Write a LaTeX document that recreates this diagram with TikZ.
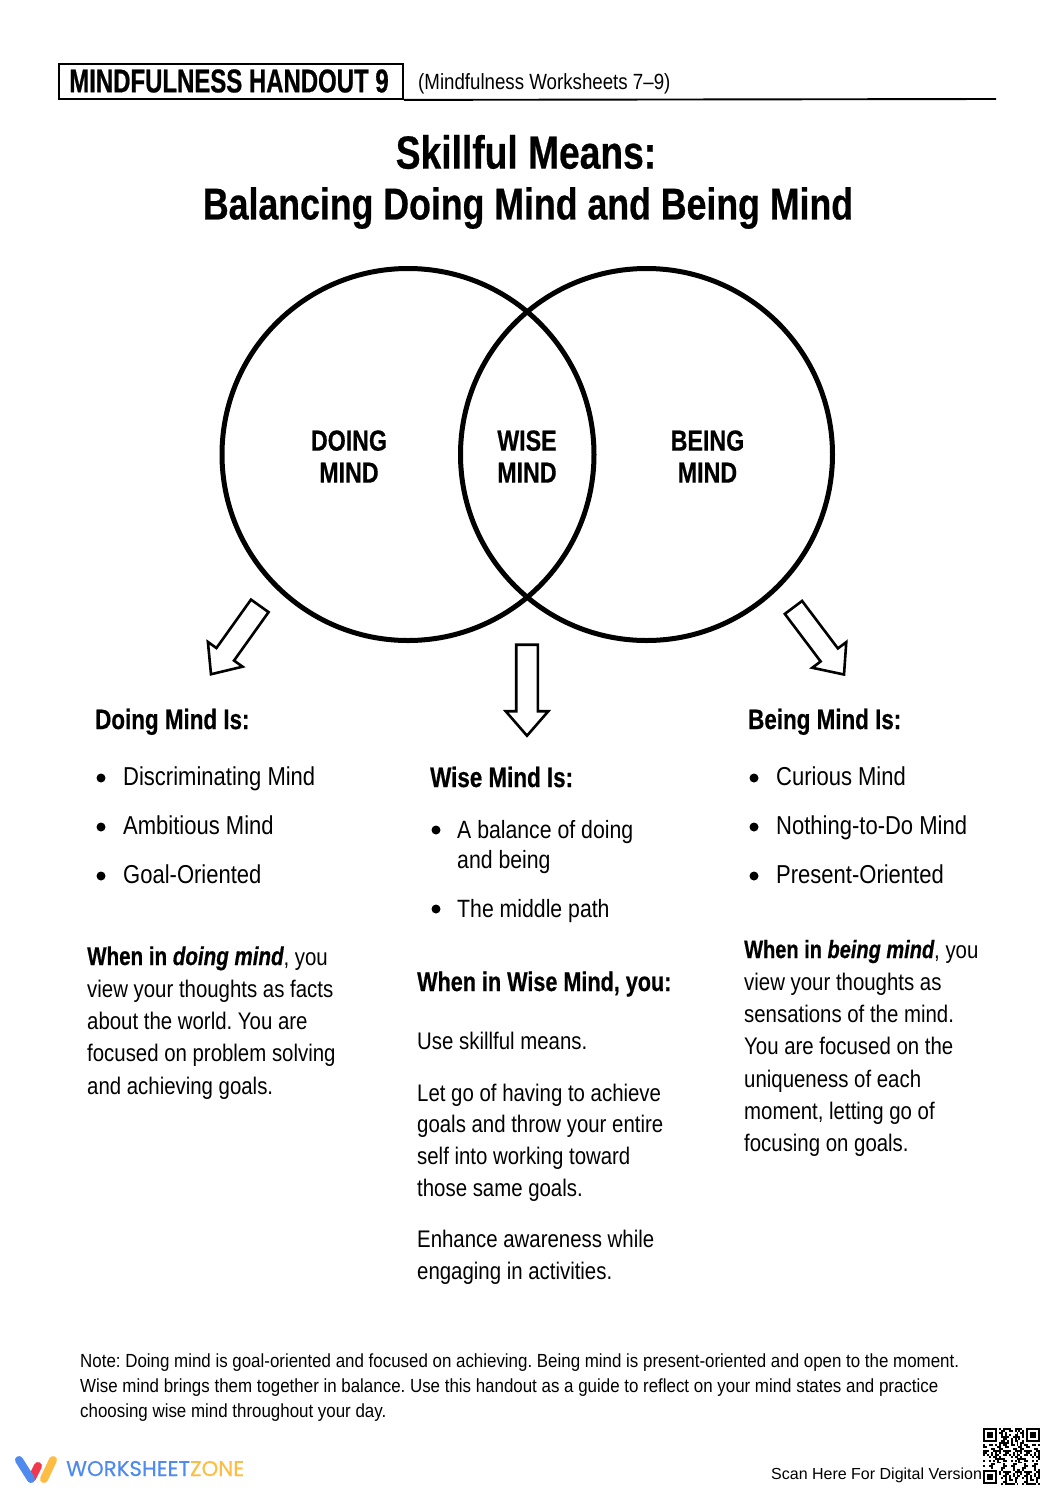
\documentclass[tikz,border=0pt]{standalone}
\usepackage{fontspec}
\usepackage{tikz}
\usetikzlibrary{shapes.arrows}
\setmainfont{Liberation Sans}
\newfontfamily\condfont[FakeStretch=0.85]{Liberation Sans}
\newfontfamily\notefont[FakeStretch=0.89]{Liberation Sans}
\newfontfamily\headfont[FakeStretch=0.80, BoldFeatures={FakeStretch=0.80, FakeBold=0.5}, BoldItalicFeatures={FakeStretch=0.80, FakeBold=0.5}]{Liberation Sans}
\newfontfamily\hdrfont[FakeStretch=0.726, BoldFeatures={FakeStretch=0.726, FakeBold=0.6}]{Liberation Sans}
\newfontfamily\logofont[FakeBold=0.4]{Poppins}
\definecolor{logoblue}{HTML}{4F8BEF}
\definecolor{logored}{HTML}{F2384F}
\definecolor{logoyellow}{HTML}{FDBD45}
\frenchspacing
\tikzset{
    mindcircle/.style={circle, draw, line width=5pt, minimum size=372pt, inner sep=0pt},
    mindlabel/.style={font=\headfont\bfseries\fontsize{29}{32}\selectfont, align=center, inner sep=0pt},
    bigarrow/.style={single arrow, draw, line width=2.6pt, minimum height=#1,
        single arrow head extend=10.5pt, single arrow tip angle=82, inner xsep=0pt, inner ysep=9.5pt},
    heading/.style={anchor=base west, inner sep=0pt, font=\headfont\bfseries\fontsize{28}{30}\selectfont},
    body/.style={anchor=base west, inner sep=0pt, font=\condfont\fontsize{24}{26}\selectfont},
    listitem/.style={anchor=base west, inner sep=0pt, font=\condfont\fontsize{25.9}{28}\selectfont},
    notetext/.style={anchor=base west, inner sep=0pt, font=\notefont\fontsize{19}{21}\selectfont},
    bulletdot/.style={circle, fill, inner sep=0pt, minimum size=9pt},
}
\newcommand{\whenbold}[2]{{\headfont\bfseries\fontsize{#1}{26}\selectfont When in \itshape #2}}
\begin{document}
\begin{tikzpicture}[x=1pt, y=-1pt]
    \useasboundingbox (0, 0) rectangle (1054, 1492);

    % Header
    \node[draw, line width=1.9pt, anchor=north west, minimum width=344pt, minimum height=35pt, inner sep=0pt] (hdrbox) at (58, 63) {};
    \node[inner sep=0pt, font=\hdrfont\bfseries\fontsize{33}{34}\selectfont] (hdrtitle) at (229, 81) {MINDFULNESS HANDOUT 9};
    \coordinate (rulestart) at (hdrbox.south east);
    \coordinate (ruleend) at (996, 99);
    \draw[line width=1.9pt] (rulestart) -- (ruleend);
    \node[body, font=\condfont\fontsize{22}{24}\selectfont] (hdrnote) at (418, 89) {(Mindfulness Worksheets 7–9)};

    % Title
    \node[inner sep=0pt, font=\headfont\bfseries\fontsize{46.5}{50}\selectfont] (title1) at (526, 152) {Skillful Means:};
    \node[inner sep=0pt, font=\headfont\bfseries\fontsize{44.6}{50}\selectfont] (title2) at (528, 208) {Balancing Doing Mind and Being Mind};

    % Circles
    \node[mindcircle] (doingc) at (408, 454.5) {};
    \node[mindcircle] (beingc) at (646.5, 454.5) {};
    \node[mindlabel] (doinglab) at (349, 456.5) {DOING\\MIND};
    \node[mindlabel] (wiselab) at (527, 456.5) {WISE\\MIND};
    \node[mindlabel] (beinglab) at (707.5, 456.5) {BEING\\MIND};

    % Arrows
    \node[bigarrow=84pt, rotate=-125.5] (doingarrow) at (239, 635) {};
    \node[bigarrow=91pt, rotate=-90] (wisearrow) at (527, 684) {};
    \node[bigarrow=84pt, rotate=-53] (beingarrow) at (815, 636) {};

    % Doing column
    \node[heading] (doinghead) at (95, 729) {Doing Mind Is:};
    \foreach \name/\ypos/\txt in {d1/785/Discriminating Mind, d2/834/Ambitious Mind, d3/883/Goal-Oriented} {
        \node[bulletdot] (\name dot) at (101, \ypos-7) {};
        \node[listitem] (\name) at (123, \ypos) {\txt};
    }
    \node[body] (dl1) at (87, 965) {\whenbold{25.7}{doing mind}, you};
    \node[body] (dl2) at (87, 997) {view your thoughts as facts};
    \node[body] (dl3) at (87, 1029) {about the world. You are};
    \node[body] (dl4) at (87, 1061) {focused on problem solving};
    \node[body] (dl5) at (87, 1094) {and achieving goals.};

    % Wise column
    \node[heading] (wisehead) at (430, 787) {Wise Mind Is:};
    \node[bulletdot] (w1dot) at (436, 830) {};
    \node[body, font=\condfont\fontsize{25}{26}\selectfont] (w1) at (457, 838) {A balance of doing};
    \node[body, font=\condfont\fontsize{25}{26}\selectfont] (w1b) at (457, 868) {and being};
    \node[bulletdot] (w2dot) at (436, 909) {};
    \node[body, font=\condfont\fontsize{25}{26}\selectfont] (w2) at (457, 917) {The middle path};
    \node[heading, font=\headfont\bfseries\fontsize{27}{30}\selectfont] (wisewhen) at (417, 991) {When in Wise Mind, you:};
    \foreach \name/\ypos/\txt in {wl1/1049/Use skillful means., wl2/1101/Let go of having to achieve, wl3/1132/goals and throw your entire,
        wl4/1164/self into working toward, wl5/1196/those same goals., wl6/1247/Enhance awareness while, wl7/1279/engaging in activities.} {
        \node[body] (\name) at (417, \ypos) {\txt};
    }

    % Being column
    \node[heading] (beinghead) at (748, 729) {Being Mind Is:};
    \foreach \name/\ypos/\txt in {b1/785/Curious Mind, b2/834/Nothing-to-Do Mind, b3/883/Present-Oriented} {
        \node[bulletdot] (\name dot) at (754, \ypos-7) {};
        \node[listitem] (\name) at (776, \ypos) {\txt};
    }
    \node[body] (bl1) at (744, 958) {\whenbold{25}{being mind}, you};
    \foreach \name/\ypos/\txt in {bl2/990/view your thoughts as, bl3/1022/sensations of the mind., bl4/1054/You are focused on the,
        bl5/1087/uniqueness of each, bl6/1119/{moment, letting go of}, bl7/1151/focusing on goals.} {
        \node[body] (\name) at (744, \ypos) {\txt};
    }

    % Note
    \node[notetext] (note1) at (80, 1367) {Note: Doing mind is goal-oriented and focused on achieving. Being mind is present-oriented and open to the moment.};
    \node[notetext] (note2) at (80, 1392) {Wise mind brings them together in balance. Use this handout as a guide to reflect on your mind states and practice};
    \node[notetext] (note3) at (80, 1417) {choosing wise mind throughout your day.};

    % Footer
    \draw[logored, line width=8pt, line cap=round] (32, 1478) -- (38, 1466);
    \draw[logoblue, line width=8pt, line cap=round] (19, 1460) -- (31, 1479);
    \draw[logoyellow, line width=8pt, line cap=round] (44, 1479) -- (53, 1460);
    \node[anchor=base west, inner sep=0pt, text=logoblue, font=\logofont\fontsize{21.3}{22}\selectfont] (logotext) at (66, 1476)
        {WORKSHEET\textcolor{logoyellow}{ZONE}};
    \node[anchor=base west, inner sep=0pt, font=\fontsize{16}{18}\selectfont] (scanlabel) at (771, 1479) {Scan Here For Digital Version};

    % QR code
    \foreach \fx/\fy in {983/1428, 1026/1428, 983/1470} {
        \draw[line width=2pt] (\fx+1, \fy+1) rectangle (\fx+13, \fy+13);
        \fill (\fx+4, \fy+4) rectangle (\fx+10, \fy+10);
    }
    \foreach \col in {0,...,28} {
        \foreach \row in {0,...,28} {
            \pgfmathtruncatemacro{\qrbit}{mod(\col*\col*3+mod(\row*\row,7)*\row*5+\col*\row*7+\col+2*\row,11)<5 ? 1 : 0}
            \pgfmathtruncatemacro{\qrfree}{((\col<8 && \row<8) || (\col>20 && \row<8) || (\col<8 && \row>20)) ? 0 : 1}
            \ifnum\qrbit\qrfree=11
                \fill (983+\col*1.97, 1428+\row*1.97) rectangle +(1.97, 1.97);
            \fi
        }
    }
\end{tikzpicture}
\end{document}
